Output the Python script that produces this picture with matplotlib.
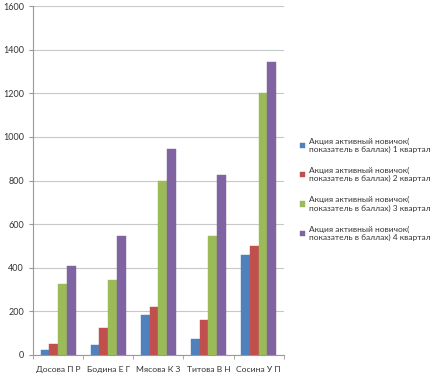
import matplotlib.pyplot as plt
import numpy as np

plt.rcParams['font.family'] = ['Lato', 'DejaVu Sans']

names = ["Досова П Р", "Бодина Е Г", "Мясова К З", "Титова В Н", "Сосина У П"]
q1 = [25, 45, 185, 75, 460]
q2 = [50, 125, 220, 160, 500]
q3 = [325, 345, 800, 545, 1200]
q4 = [410, 545, 945, 825, 1345]
series = [q1, q2, q3, q4]
labels = ["Акция активный новичок(\nпоказатель в баллах) %d квартал" % k for k in range(1, 5)]
colors = ["#4F81BD", "#C0504D", "#9BBB59", "#8064A2"]

fig = plt.figure(figsize=(4.36, 3.77), dpi=100)
ax = fig.add_axes([0.0757, 0.0584, 0.575, 0.9256])

x = np.arange(len(names))
w = 0.175
for i in range(4):
    ax.bar(x + (i - 1.5) * w, series[i], w, color=colors[i], label=labels[i],
           edgecolor=colors[i], linewidth=0.3, zorder=3)

ax.set_xlim(-0.5, 4.5)
ax.set_ylim(0, 1600)
ax.set_yticks(range(0, 1601, 200))
ax.grid(axis='y', color='#c8c8c8', linewidth=0.8, zorder=0)
ax.set_xticks(x)
ax.set_xticklabels(names, fontsize=6.1, color='#333333')
ax.set_xticks(np.arange(-0.5, 5, 1), minor=True)
ax.tick_params(axis='x', which='major', length=0, pad=8)
ax.tick_params(axis='x', which='minor', length=3, color='#999999')
ax.tick_params(axis='y', labelsize=6.5, labelcolor='#333333', length=3, color='#999999')
for s in ['top', 'right']:
    ax.spines[s].set_visible(False)
ax.spines['left'].set_color('#999999')
ax.spines['bottom'].set_color('#999999')

fig.legend(loc='upper left', bbox_to_anchor=(0.67, 0.655), frameon=False,
           fontsize=6, handlelength=0.6, handleheight=0.6, handletextpad=0.5,
           labelspacing=1.65, labelcolor='#333333')

fig.savefig("out.png", dpi=100)
